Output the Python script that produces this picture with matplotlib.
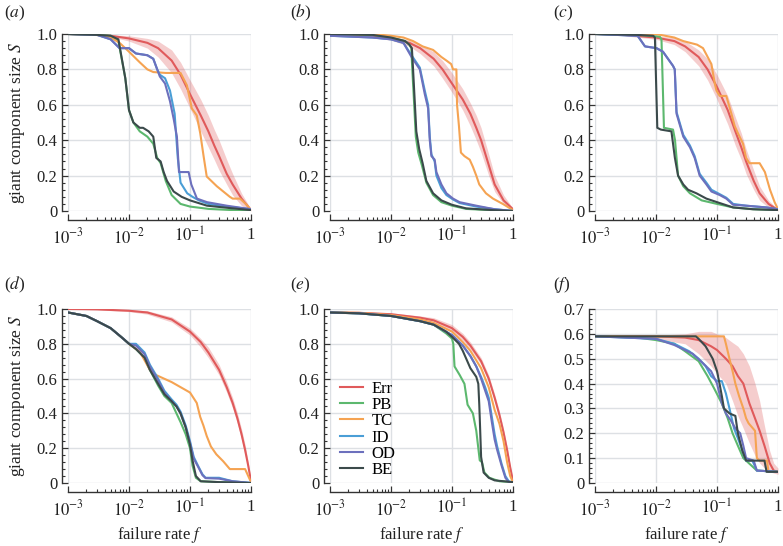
import numpy as np
import matplotlib
matplotlib.use('Agg')
import matplotlib.pyplot as plt
from matplotlib.ticker import LogLocator, NullFormatter, MultipleLocator

# ---- panel (a) ----
a_err_f = [1e-3, 2e-3, 5e-3, 1e-2, 2e-2, 3e-2, 5e-2, 7e-2, 0.1, 0.15, 0.2, 0.25, 0.3, 0.4, 0.5, 0.7, 1.0]
a_err = [1.0, 0.998, 0.99, 0.975, 0.95, 0.92, 0.85, 0.77, 0.66, 0.54, 0.45, 0.37, 0.31, 0.21, 0.15, 0.07, 0.005]
a_err_lo = [1.0, 0.995, 0.985, 0.96, 0.92, 0.87, 0.78, 0.69, 0.58, 0.45, 0.36, 0.29, 0.23, 0.15, 0.09, 0.03, 0.0]
a_err_hi = [1.0, 1.0, 0.995, 0.99, 0.975, 0.96, 0.91, 0.84, 0.74, 0.63, 0.54, 0.46, 0.40, 0.29, 0.21, 0.10, 0.01]
a_pb_f = [1e-3, 3e-3, 5e-3, 6.7e-3, 8.7e-3, 1e-2, 1.18e-2, 1.5e-2, 2e-2, 2.5e-2, 2.9e-2, 3.3e-2, 4e-2, 5e-2, 7e-2, 0.1, 0.2, 0.5, 1.0]
a_pb = [1.0, 0.995, 0.99, 0.96, 0.75, 0.57, 0.50, 0.45, 0.42, 0.38, 0.30, 0.27, 0.17, 0.09, 0.04, 0.025, 0.012, 0.005, 0.0]
a_tc_f = [1e-3, 3e-3, 5e-3, 7e-3, 1e-2, 1.5e-2, 2e-2, 2.5e-2, 4e-2, 7e-2, 8.9e-2, 0.107, 0.129, 0.147, 0.167, 0.188, 0.275, 0.45, 0.5, 0.66, 0.85, 1.0]
a_tc = [1.0, 0.995, 0.98, 0.95, 0.90, 0.84, 0.80, 0.785, 0.78, 0.78, 0.71, 0.58, 0.54, 0.44, 0.31, 0.195, 0.14, 0.08, 0.07, 0.07, 0.035, 0.005]
a_id_f = [1e-3, 3e-3, 5e-3, 7e-3, 1e-2, 1.3e-2, 2e-2, 2.5e-2, 2.9e-2, 3.2e-2, 3.9e-2, 4.7e-2, 5.6e-2, 6.3e-2, 7e-2, 0.09, 0.11, 0.14, 0.2, 0.4, 1.0]
a_id = [1.0, 0.995, 0.97, 0.92, 0.92, 0.89, 0.88, 0.86, 0.80, 0.77, 0.75, 0.68, 0.55, 0.30, 0.16, 0.10, 0.08, 0.06, 0.04, 0.025, 0.01]
a_od_f = [1e-3, 3e-3, 5e-3, 7e-3, 1e-2, 1.3e-2, 2e-2, 2.5e-2, 2.9e-2, 3.2e-2, 3.9e-2, 4.7e-2, 5.4e-2, 6.1e-2, 6.6e-2, 9.5e-2, 0.105, 0.13, 0.19, 0.4, 1.0]
a_od = [1.0, 0.995, 0.97, 0.92, 0.92, 0.89, 0.88, 0.86, 0.80, 0.76, 0.72, 0.62, 0.52, 0.42, 0.22, 0.22, 0.15, 0.07, 0.05, 0.03, 0.01]
a_be_f = [1e-3, 3e-3, 5e-3, 6.7e-3, 8.7e-3, 1e-2, 1.18e-2, 1.5e-2, 1.7e-2, 2.1e-2, 2.5e-2, 2.8e-2, 3.3e-2, 3.7e-2, 4.2e-2, 5.4e-2, 7.3e-2, 0.1, 0.19, 0.5, 1.0]
a_be = [1.0, 0.995, 0.99, 0.97, 0.75, 0.57, 0.50, 0.47, 0.47, 0.45, 0.42, 0.30, 0.28, 0.22, 0.17, 0.11, 0.08, 0.06, 0.03, 0.015, 0.005]

# ---- panel (b) ----
b_err_f = [1e-3, 3e-3, 1e-2, 2e-2, 3e-2, 5e-2, 7e-2, 0.1, 0.15, 0.2, 0.25, 0.3, 0.4, 0.5, 0.7, 1.0]
b_err = [1.0, 0.995, 0.975, 0.95, 0.92, 0.86, 0.80, 0.72, 0.63, 0.55, 0.47, 0.40, 0.26, 0.15, 0.06, 0.01]
b_err_lo = [1.0, 0.99, 0.965, 0.93, 0.89, 0.82, 0.75, 0.67, 0.57, 0.48, 0.40, 0.33, 0.20, 0.11, 0.04, 0.005]
b_err_hi = [1.0, 1.0, 0.985, 0.965, 0.94, 0.90, 0.85, 0.78, 0.69, 0.61, 0.54, 0.47, 0.32, 0.20, 0.09, 0.015]
b_pb_f = [1e-3, 5e-3, 1e-2, 1.7e-2, 2e-2, 2.15e-2, 2.25e-2, 2.4e-2, 2.55e-2, 2.8e-2, 3.2e-2, 3.8e-2, 4.9e-2, 6.7e-2, 0.1, 0.17, 0.47, 1.0]
b_pb = [1.0, 0.995, 0.98, 0.96, 0.94, 0.92, 0.78, 0.60, 0.42, 0.33, 0.26, 0.16, 0.09, 0.05, 0.03, 0.012, 0.004, 0.0]
b_tc_f = [1e-3, 5e-3, 1e-2, 1.6e-2, 2.3e-2, 3.3e-2, 4.9e-2, 6.7e-2, 8.1e-2, 9.7e-2, 0.104, 0.118, 0.121, 0.13, 0.14, 0.16, 0.195, 0.22, 0.25, 0.28, 0.36, 0.47, 0.68, 1.0]
b_tc = [1.0, 1.0, 0.99, 0.98, 0.96, 0.93, 0.91, 0.87, 0.85, 0.83, 0.80, 0.80, 0.60, 0.48, 0.33, 0.31, 0.29, 0.25, 0.20, 0.15, 0.10, 0.07, 0.04, 0.005]
b_id_f = [1e-3, 5e-3, 1e-2, 1.6e-2, 2.17e-2, 2.97e-2, 3.58e-2, 4.06e-2, 4.32e-2, 4.6e-2, 5.2e-2, 5.55e-2, 6.7e-2, 8.1e-2, 0.104, 0.133, 0.25, 0.5, 1.0]
b_id = [0.99, 0.98, 0.97, 0.95, 0.88, 0.81, 0.68, 0.60, 0.42, 0.32, 0.28, 0.20, 0.13, 0.09, 0.065, 0.045, 0.025, 0.01, 0.0]
b_od_f = [1e-3, 5e-3, 1e-2, 1.6e-2, 2.17e-2, 2.97e-2, 3.58e-2, 4.06e-2, 4.32e-2, 4.6e-2, 5.2e-2, 5.55e-2, 6.7e-2, 8.1e-2, 0.104, 0.133, 0.25, 0.5, 1.0]
b_od = [0.99, 0.98, 0.97, 0.95, 0.87, 0.80, 0.66, 0.58, 0.40, 0.31, 0.29, 0.22, 0.15, 0.10, 0.07, 0.05, 0.03, 0.01, 0.0]
b_be_f = [1e-3, 5e-3, 1e-2, 1.7e-2, 2e-2, 2.2e-2, 2.3e-2, 2.45e-2, 2.6e-2, 2.9e-2, 3.3e-2, 3.8e-2, 4.9e-2, 6.7e-2, 0.1, 0.17, 0.47, 1.0]
b_be = [1.0, 0.995, 0.98, 0.96, 0.94, 0.92, 0.80, 0.62, 0.45, 0.35, 0.27, 0.17, 0.10, 0.06, 0.035, 0.015, 0.005, 0.0]

# ---- panel (c) ----
c_err_f = [1e-3, 3e-3, 1e-2, 2e-2, 3e-2, 5e-2, 7e-2, 0.1, 0.15, 0.2, 0.25, 0.3, 0.4, 0.5, 0.7, 1.0]
c_err = [1.0, 0.995, 0.98, 0.96, 0.93, 0.87, 0.80, 0.70, 0.57, 0.45, 0.36, 0.28, 0.17, 0.10, 0.04, 0.005]
c_err_lo = [1.0, 0.99, 0.97, 0.94, 0.90, 0.82, 0.74, 0.63, 0.49, 0.37, 0.29, 0.21, 0.12, 0.06, 0.02, 0.0]
c_err_hi = [1.0, 1.0, 0.99, 0.98, 0.96, 0.91, 0.86, 0.77, 0.65, 0.53, 0.44, 0.35, 0.23, 0.14, 0.06, 0.01]
c_pb_f = [1e-3, 5e-3, 1.15e-2, 1.23e-2, 1.35e-2, 1.9e-2, 2.05e-2, 2.3e-2, 2.8e-2, 3.6e-2, 5.6e-2, 0.1, 0.184, 0.39, 1.0]
c_pb = [1.0, 0.995, 0.985, 0.97, 0.47, 0.46, 0.40, 0.20, 0.14, 0.10, 0.06, 0.04, 0.02, 0.01, 0.005]
c_tc_f = [1e-3, 1e-2, 2e-2, 2.8e-2, 4.7e-2, 5.9e-2, 8.1e-2, 9.2e-2, 9.8e-2, 0.111, 0.142, 0.172, 0.195, 0.22, 0.267, 0.30, 0.34, 0.50, 0.61, 0.74, 0.88, 1.0]
c_tc = [1.0, 1.0, 0.98, 0.96, 0.94, 0.92, 0.83, 0.72, 0.68, 0.65, 0.65, 0.55, 0.48, 0.44, 0.38, 0.30, 0.27, 0.27, 0.22, 0.12, 0.05, 0.01]
c_id_f = [1e-3, 5e-3, 6.6e-3, 1.02e-2, 1.3e-2, 1.9e-2, 2.03e-2, 2.17e-2, 2.8e-2, 3.6e-2, 4.3e-2, 5.2e-2, 6.7e-2, 8.1e-2, 0.111, 0.142, 0.184, 0.30, 0.65, 1.0]
c_id = [1.0, 0.99, 0.93, 0.92, 0.90, 0.82, 0.80, 0.56, 0.43, 0.37, 0.31, 0.21, 0.16, 0.12, 0.095, 0.075, 0.04, 0.03, 0.02, 0.01]
c_od_f = [1e-3, 5e-3, 6.6e-3, 1.02e-2, 1.3e-2, 1.9e-2, 2.03e-2, 2.17e-2, 2.8e-2, 3.6e-2, 4.3e-2, 5.2e-2, 6.7e-2, 8.1e-2, 0.111, 0.142, 0.184, 0.30, 0.65, 1.0]
c_od = [1.0, 0.99, 0.93, 0.92, 0.90, 0.82, 0.80, 0.55, 0.42, 0.36, 0.30, 0.20, 0.15, 0.11, 0.09, 0.07, 0.035, 0.03, 0.02, 0.01]
c_be_f = [1e-3, 5e-3, 9e-3, 9.6e-3, 1.05e-2, 1.2e-2, 1.79e-2, 2.04e-2, 2.3e-2, 2.8e-2, 3.36e-2, 4.6e-2, 6.7e-2, 0.1, 0.184, 0.39, 1.0]
c_be = [1.0, 0.995, 0.99, 0.98, 0.47, 0.46, 0.45, 0.30, 0.20, 0.15, 0.12, 0.10, 0.07, 0.05, 0.02, 0.01, 0.005]

# ---- panel (d) ----
d_err_f = [1e-3, 3e-3, 1e-2, 2e-2, 5e-2, 0.1, 0.15, 0.2, 0.3, 0.4, 0.5, 0.6, 0.7, 0.8, 0.9, 1.0]
d_err = [1.0, 0.998, 0.99, 0.98, 0.94, 0.87, 0.81, 0.75, 0.65, 0.55, 0.46, 0.37, 0.28, 0.19, 0.10, 0.01]
d_err_lo = [1.0, 0.995, 0.985, 0.97, 0.925, 0.85, 0.78, 0.72, 0.62, 0.52, 0.43, 0.34, 0.25, 0.16, 0.08, 0.005]
d_err_hi = [1.0, 1.0, 0.995, 0.99, 0.955, 0.89, 0.83, 0.78, 0.68, 0.58, 0.49, 0.40, 0.31, 0.22, 0.12, 0.015]
d_pb_f = [1e-3, 2e-3, 3e-3, 5e-3, 8e-3, 1e-2, 1.3e-2, 1.8e-2, 2.2e-2, 3e-2, 3.8e-2, 5e-2, 6e-2, 7e-2, 8.5e-2, 0.1, 0.11, 0.125, 0.15, 0.3, 1.0]
d_pb = [0.98, 0.96, 0.93, 0.89, 0.83, 0.80, 0.77, 0.72, 0.65, 0.56, 0.50, 0.46, 0.40, 0.35, 0.28, 0.20, 0.10, 0.03, 0.01, 0.005, 0.0]
d_tc_f = [1e-3, 2e-3, 3e-3, 5e-3, 8e-3, 1e-2, 1.3e-2, 1.5e-2, 2.2e-2, 2.8e-2, 5e-2, 0.1, 0.129, 0.147, 0.166, 0.188, 0.22, 0.27, 0.35, 0.45, 0.8, 1.0]
d_tc = [0.98, 0.96, 0.93, 0.89, 0.83, 0.80, 0.77, 0.755, 0.65, 0.62, 0.58, 0.52, 0.46, 0.38, 0.33, 0.27, 0.21, 0.165, 0.125, 0.08, 0.08, 0.005]
d_id_f = [1e-3, 2e-3, 3e-3, 5e-3, 8e-3, 1e-2, 1.3e-2, 1.8e-2, 2.2e-2, 3e-2, 3.8e-2, 5e-2, 6e-2, 7e-2, 8.5e-2, 0.1, 0.115, 0.135, 0.16, 0.18, 0.3, 0.5, 1.0]
d_id = [0.98, 0.96, 0.93, 0.89, 0.83, 0.80, 0.80, 0.75, 0.68, 0.60, 0.53, 0.48, 0.45, 0.41, 0.33, 0.24, 0.15, 0.10, 0.05, 0.03, 0.03, 0.01, 0.0]
d_od_f = [1e-3, 2e-3, 3e-3, 5e-3, 8e-3, 1e-2, 1.3e-2, 1.8e-2, 2.2e-2, 3e-2, 3.8e-2, 5e-2, 6e-2, 7e-2, 8.5e-2, 0.1, 0.115, 0.135, 0.16, 0.18, 0.3, 0.5, 1.0]
d_od = [0.98, 0.96, 0.93, 0.89, 0.83, 0.80, 0.79, 0.74, 0.67, 0.59, 0.52, 0.47, 0.44, 0.40, 0.32, 0.23, 0.14, 0.095, 0.045, 0.028, 0.025, 0.01, 0.0]
d_be_f = [1e-3, 2e-3, 3e-3, 5e-3, 8e-3, 1e-2, 1.3e-2, 1.8e-2, 2.2e-2, 3e-2, 3.8e-2, 5e-2, 6e-2, 7e-2, 8.5e-2, 0.1, 0.11, 0.125, 0.15, 0.3, 1.0]
d_be = [0.98, 0.96, 0.93, 0.89, 0.83, 0.80, 0.77, 0.72, 0.65, 0.57, 0.51, 0.47, 0.44, 0.40, 0.32, 0.22, 0.13, 0.04, 0.01, 0.005, 0.0]

# ---- panel (e) ----
e_err_f = [1e-3, 3e-3, 1e-2, 3e-2, 5e-2, 0.1, 0.15, 0.2, 0.3, 0.4, 0.5, 0.6, 0.7, 0.8, 0.9, 1.0]
e_err = [0.98, 0.978, 0.97, 0.95, 0.935, 0.89, 0.84, 0.79, 0.70, 0.60, 0.49, 0.39, 0.29, 0.19, 0.09, 0.01]
e_err_lo = [0.975, 0.972, 0.962, 0.94, 0.92, 0.87, 0.82, 0.77, 0.68, 0.58, 0.47, 0.37, 0.27, 0.17, 0.08, 0.005]
e_err_hi = [0.985, 0.984, 0.978, 0.96, 0.95, 0.91, 0.86, 0.81, 0.72, 0.62, 0.51, 0.41, 0.31, 0.21, 0.10, 0.015]
e_pb_f = [1e-3, 3e-3, 1e-2, 3e-2, 5e-2, 8e-2, 0.1, 0.105, 0.11, 0.134, 0.16, 0.18, 0.22, 0.25, 0.27, 0.285, 0.31, 0.34, 0.41, 0.6, 1.0]
e_pb = [0.98, 0.975, 0.96, 0.93, 0.91, 0.86, 0.83, 0.80, 0.67, 0.62, 0.57, 0.45, 0.40, 0.30, 0.20, 0.13, 0.12, 0.06, 0.03, 0.01, 0.005]
e_tc_f = [1e-3, 3e-3, 1e-2, 3e-2, 5e-2, 0.1, 0.15, 0.2, 0.3, 0.4, 0.5, 0.6, 0.7, 0.8, 0.9, 1.0]
e_tc = [0.98, 0.978, 0.965, 0.94, 0.92, 0.87, 0.81, 0.76, 0.66, 0.55, 0.42, 0.34, 0.24, 0.12, 0.04, 0.005]
e_id_f = [1e-3, 3e-3, 1e-2, 3e-2, 5e-2, 0.1, 0.15, 0.2, 0.25, 0.3, 0.35, 0.4, 0.45, 0.5, 0.55, 0.65, 0.75, 0.85, 1.0]
e_id = [0.98, 0.975, 0.96, 0.93, 0.91, 0.85, 0.79, 0.73, 0.67, 0.61, 0.55, 0.49, 0.38, 0.28, 0.21, 0.11, 0.04, 0.01, 0.0]
e_od_f = [1e-3, 3e-3, 1e-2, 3e-2, 5e-2, 0.1, 0.15, 0.2, 0.25, 0.3, 0.35, 0.4, 0.45, 0.5, 0.55, 0.65, 0.75, 0.85, 1.0]
e_od = [0.98, 0.975, 0.96, 0.93, 0.91, 0.85, 0.79, 0.73, 0.67, 0.60, 0.53, 0.47, 0.35, 0.25, 0.19, 0.10, 0.03, 0.005, 0.0]
e_be_f = [1e-3, 3e-3, 1e-2, 3e-2, 5e-2, 8e-2, 0.1, 0.13, 0.15, 0.2, 0.25, 0.27, 0.28, 0.29, 0.3, 0.33, 0.4, 0.5, 1.0]
e_be = [0.98, 0.975, 0.96, 0.93, 0.91, 0.87, 0.84, 0.80, 0.76, 0.66, 0.61, 0.57, 0.45, 0.30, 0.15, 0.06, 0.03, 0.015, 0.005]

# ---- panel (f) ----
f_err_f = [1e-3, 1e-2, 3e-2, 5e-2, 8e-2, 0.1, 0.14, 0.18, 0.22, 0.27, 0.34, 0.42, 0.5, 0.6, 0.73, 0.85, 1.0]
f_err = [0.59, 0.59, 0.585, 0.575, 0.55, 0.535, 0.50, 0.47, 0.43, 0.40, 0.32, 0.26, 0.21, 0.15, 0.08, 0.05, 0.045]
f_err_lo = [0.59, 0.58, 0.56, 0.52, 0.47, 0.44, 0.40, 0.33, 0.27, 0.22, 0.16, 0.11, 0.08, 0.06, 0.045, 0.04, 0.035]
f_err_hi = [0.59, 0.595, 0.60, 0.61, 0.61, 0.60, 0.585, 0.565, 0.55, 0.52, 0.47, 0.40, 0.33, 0.23, 0.13, 0.08, 0.06]
f_pb_f = [1e-3, 5e-3, 1e-2, 2e-2, 3e-2, 5e-2, 7e-2, 9e-2, 0.12, 0.15, 0.18, 0.22, 0.27, 0.3, 0.45, 1.0]
f_pb = [0.59, 0.585, 0.575, 0.56, 0.53, 0.49, 0.43, 0.38, 0.32, 0.26, 0.20, 0.15, 0.10, 0.09, 0.05, 0.045]
f_tc_f = [1e-3, 1e-2, 0.1, 0.13, 0.14, 0.16, 0.18, 0.2, 0.23, 0.27, 0.3, 0.33, 0.42, 0.45, 0.5, 0.6, 0.66, 0.7, 1.0]
f_tc = [0.59, 0.59, 0.59, 0.59, 0.56, 0.50, 0.45, 0.40, 0.35, 0.30, 0.26, 0.24, 0.21, 0.10, 0.09, 0.09, 0.09, 0.045, 0.045]
f_id_f = [1e-3, 1e-2, 2e-2, 3.5e-2, 5e-2, 6.5e-2, 8e-2, 0.1, 0.12, 0.14, 0.16, 0.19, 0.22, 0.27, 0.3, 0.38, 0.45, 1.0]
f_id = [0.59, 0.58, 0.56, 0.53, 0.50, 0.47, 0.43, 0.41, 0.41, 0.36, 0.30, 0.22, 0.18, 0.12, 0.09, 0.09, 0.05, 0.045]
f_od_f = [1e-3, 1e-2, 2e-2, 4e-2, 6e-2, 8e-2, 0.1, 0.12, 0.14, 0.17, 0.2, 0.24, 0.27, 0.3, 0.4, 0.45, 1.0]
f_od = [0.59, 0.58, 0.555, 0.52, 0.48, 0.45, 0.40, 0.32, 0.28, 0.25, 0.22, 0.20, 0.15, 0.10, 0.09, 0.05, 0.045]
f_be_f = [1e-3, 1e-2, 4.5e-2, 5e-2, 6.5e-2, 8.5e-2, 0.1, 0.11, 0.12, 0.13, 0.16, 0.2, 0.22, 0.26, 0.3, 0.6, 0.65, 1.0]
f_be = [0.59, 0.59, 0.59, 0.58, 0.55, 0.50, 0.45, 0.40, 0.35, 0.30, 0.28, 0.27, 0.20, 0.13, 0.09, 0.09, 0.045, 0.045]

labels = ['Err', 'PB', 'TC', 'ID', 'OD', 'BE']
colors = ['#e05a5b', '#5cb86e', '#f5a352', '#4a9ed6', '#6c70bd', '#3b4a4b']

plt.rcParams['font.family'] = ['Liberation Serif', 'DejaVu Serif']
plt.rcParams['mathtext.fontset'] = 'stix'
plt.rcParams['font.size'] = 12

panels = [
    ('a', (a_err_f, a_err, a_err_lo, a_err_hi), [(a_pb_f, a_pb), (a_tc_f, a_tc), (a_id_f, a_id), (a_od_f, a_od), (a_be_f, a_be)]),
    ('b', (b_err_f, b_err, b_err_lo, b_err_hi), [(b_pb_f, b_pb), (b_tc_f, b_tc), (b_id_f, b_id), (b_od_f, b_od), (b_be_f, b_be)]),
    ('c', (c_err_f, c_err, c_err_lo, c_err_hi), [(c_pb_f, c_pb), (c_tc_f, c_tc), (c_id_f, c_id), (c_od_f, c_od), (c_be_f, c_be)]),
    ('d', (d_err_f, d_err, d_err_lo, d_err_hi), [(d_pb_f, d_pb), (d_tc_f, d_tc), (d_id_f, d_id), (d_od_f, d_od), (d_be_f, d_be)]),
    ('e', (e_err_f, e_err, e_err_lo, e_err_hi), [(e_pb_f, e_pb), (e_tc_f, e_tc), (e_id_f, e_id), (e_od_f, e_od), (e_be_f, e_be)]),
    ('f', (f_err_f, f_err, f_err_lo, f_err_hi), [(f_pb_f, f_pb), (f_tc_f, f_tc), (f_id_f, f_id), (f_od_f, f_od), (f_be_f, f_be)]),
]

W, H = 783, 546
fig = plt.figure(figsize=(W / 100, H / 100), dpi=100)

lefts = [68, 330, 595]
tops = [34, 309]
bottoms = [211, 483]
label_xy = [(4, 13), (290, 13), (553, 13), (4, 285), (290, 285), (553, 285)]

for i, (name, err, others) in enumerate(panels):
    row, col = divmod(i, 3)
    x0 = lefts[col]
    ax = fig.add_axes([x0 / W, 1 - bottoms[row] / H, 183 / W, (bottoms[row] - tops[row]) / H])
    ymax = 0.7 if name == 'f' else 1.0

    ax.fill_between(err[0], err[2], err[3], color=colors[0], alpha=0.3, lw=0)
    ax.plot(err[0], err[1], color=colors[0], lw=1.5, label=labels[0])
    for j, (fx, sy) in enumerate(others):
        ax.plot(fx, sy, color=colors[j + 1], lw=1.5, label=labels[j + 1])

    ax.set_xscale('log')
    ax.set_xlim(1e-3, 1)
    ax.set_ylim(0, ymax)
    for s in ['top', 'right']:
        ax.spines[s].set_visible(False)
    ax.spines['left'].set_position(('outward', 4.5))
    ax.spines['bottom'].set_position(('outward', 6.5))
    ax.spines['left'].set_bounds(0, ymax)
    ax.spines['bottom'].set_bounds(1e-3, 1)
    for s in ['left', 'bottom']:
        ax.spines[s].set_color('#333333')
        ax.spines[s].set_linewidth(1.0)

    ax.set_xticks([1e-3, 1e-2, 1e-1, 1])
    ax.set_xticklabels([r'$10^{-3}$', r'$10^{-2}$', r'$10^{-1}$', '1'])
    ax.xaxis.set_minor_locator(LogLocator(base=10, subs=np.arange(2, 10)))
    ax.xaxis.set_minor_formatter(NullFormatter())
    if name == 'f':
        yt = [0, 0.1, 0.2, 0.3, 0.4, 0.5, 0.6, 0.7]
        ax.yaxis.set_minor_locator(MultipleLocator(0.02))
    else:
        yt = [0, 0.2, 0.4, 0.6, 0.8, 1.0]
        ax.yaxis.set_minor_locator(MultipleLocator(0.04))
    ax.set_yticks(yt)
    ax.set_yticklabels(['0'] + ['%.1f' % v for v in yt[1:]])
    ax.tick_params(which='major', direction='in', length=4.5, width=0.9, color='#333333',
                   labelsize=12, labelcolor='#222222', pad=3)
    ax.tick_params(axis='x', which='major', pad=5)
    ax.tick_params(which='minor', direction='in', length=2.3, width=0.8, color='#333333')
    ax.grid(which='major', color='#dde0e4', lw=1.0)
    ax.set_axisbelow(True)

    if col == 0:
        ax.set_ylabel('giant component size $S$', fontsize=12.5, labelpad=7, color='#222222')
    if row == 1:
        ax.set_xlabel('failure rate $f$', fontsize=12, labelpad=4, color='#222222')
    if name == 'e':
        ax.legend(loc='lower left', bbox_to_anchor=(0.0, -0.03), frameon=False, fontsize=12,
                  handlelength=1.4, labelspacing=0.02, handletextpad=0.5, borderaxespad=0.2)

    lx, ly = label_xy[i]
    fig.text(lx / W, 1 - ly / H, '($%s$)' % name, fontsize=12.5, va='center', ha='left', color='#222222')

fig.savefig('out.png', dpi=100)
